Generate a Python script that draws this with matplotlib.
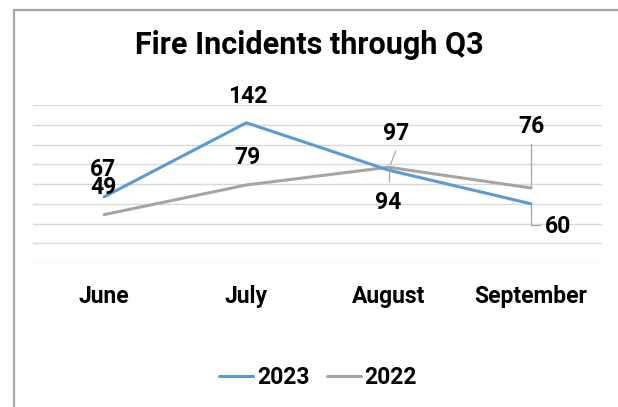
import matplotlib.pyplot as plt
from matplotlib.lines import Line2D
from matplotlib.transforms import offset_copy

months = ['June', 'July', 'August', 'September']
fires_2023 = [67, 142, 94, 60]
fires_2022 = [49, 79, 97, 76]

blue = '#5B9BD5'
gray = '#A5A5A5'
plt.rcParams['font.family'] = ['Roboto', 'DejaVu Sans']
plt.rcParams['font.weight'] = 'bold'

fig = plt.figure(figsize=(6.18, 4.07), dpi=100)
W, H = 618, 407
PT = 0.72  # points per pixel at dpi 100

# outer chart frame (left and top edges visible)
fig.add_artist(Line2D([13.5 / W, 13.5 / W], [0, 1 - 9.5 / H], transform=fig.transFigure,
                      color='#A6A6A6', lw=1.6))
fig.add_artist(Line2D([13.5 / W, 1], [1 - 9.5 / H, 1 - 9.5 / H], transform=fig.transFigure,
                      color='#A6A6A6', lw=1.6))

ax = fig.add_axes([33 / W, (H - 263) / H, (602 - 33) / W, (263 - 105) / H])
x = range(len(months))
ax.plot(x, fires_2023, color=blue, lw=2.2, label='2023', solid_capstyle='round', zorder=3)
ax.plot(x, fires_2022, color=gray, lw=2.2, label='2022', solid_capstyle='round', zorder=2)

ax.set_xlim(-0.5, 3.5)
ax.set_ylim(0, 160)
ax.set_yticks(range(0, 161, 20))
ax.yaxis.grid(True, color='#D9D9D9', lw=1)
ax.set_axisbelow(True)
for s in ax.spines.values():
    s.set_visible(False)
ax.tick_params(axis='y', left=False, labelleft=False)
ax.set_xticks(list(x))
ax.set_xticklabels(months, fontsize=16.5, fontweight='bold')
ax.tick_params(axis='x', length=0, pad=16)

lab = dict(fontsize=16.5, fontweight='bold', ha='center', va='center', textcoords='offset points')
lc = '#A6A6A6'


def label(i, series, dx, dy):
    ax.annotate(str(series[i]), (i, series[i]), xytext=(dx * PT, dy * PT), **lab)


label(0, fires_2023, -1, 27)
label(0, fires_2022, -1, 27)
label(1, fires_2023, 1, 26)
label(1, fires_2022, 1, 27)
label(2, fires_2022, 7, 34)
label(2, fires_2023, 0, -32)
label(3, fires_2022, 1, 61)
label(3, fires_2023, 27, -23)


def seg(i, value, p0, p1):
    # leader line segment between two pixel offsets from a data point
    t0 = offset_copy(ax.transData, fig=fig, x=p0[0], y=p0[1], units='dots')
    t1 = offset_copy(ax.transData, fig=fig, x=p1[0], y=p1[1], units='dots')
    a = t0.transform((i, value))
    b = t1.transform((i, value))
    fig.add_artist(Line2D([a[0] / W, b[0] / W], [a[1] / H, b[1] / H], transform=fig.transFigure,
                          color=lc, lw=0.9))


seg(2, fires_2022[2], (2, 3), (7, 16))
seg(2, fires_2023[2], (0, 0), (0, -11))
seg(3, fires_2022[3], (0, 0), (0, 44))
seg(3, fires_2023[3], (0, -1), (0, -21))
seg(3, fires_2023[3], (0, -21), (9, -21))

fig.text(0.5, 1 - 54 / H, 'Fire Incidents through Q3', ha='center', va='baseline',
         fontsize=22, fontweight='bold')

leg = fig.legend(loc='center', bbox_to_anchor=(318 / W, 1 - 378 / H), ncol=2, frameon=False,
                 prop=dict(size=16.5, weight='bold'), handlelength=1.5, handletextpad=0.15,
                 columnspacing=0.75)

fig.savefig('out.png', dpi=100)
